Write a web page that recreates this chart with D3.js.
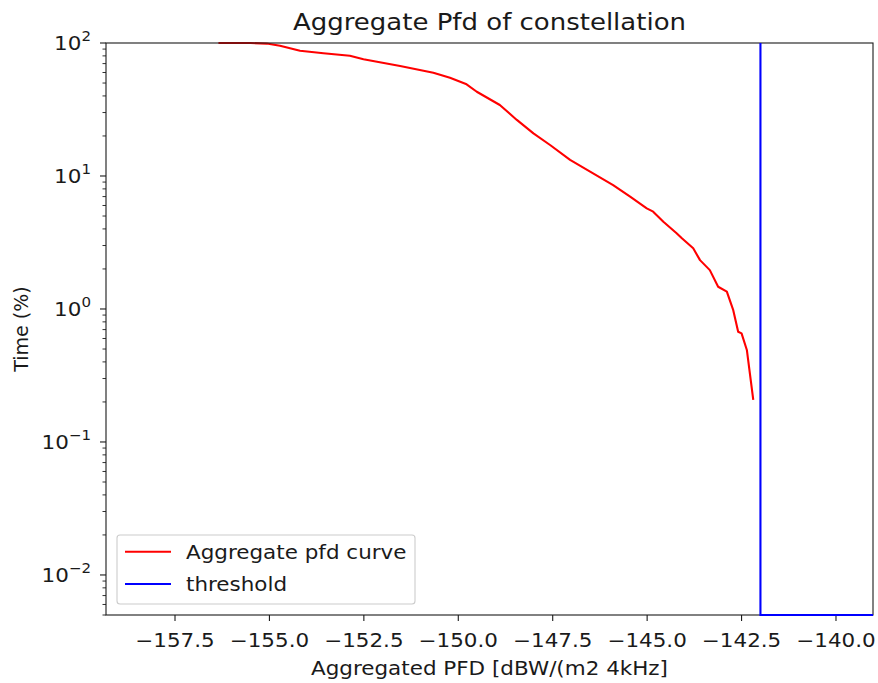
<!DOCTYPE html>
<html>
<head>
<meta charset="utf-8">
<script src="https://cdn.jsdelivr.net/npm/d3@7"></script>
<style>
  html, body { margin: 0; padding: 0; background: #fff; }
  svg { display: block; font-family: "DejaVu Sans", sans-serif; }
</style>
</head>
<body>
<svg id="chart" width="878" height="683"></svg>
<script>
// ---- data ----
const pfdX = [-156.35, -155.5, -155.07, -154.72, -154.19, -153.57, -152.87, -152.51, -151.54, -150.66,
              -150.22, -149.78, -149.51, -148.90, -148.45, -148.01, -147.57, -147.04, -146.51, -145.90,
              -145.45, -145.01, -144.84, -144.57, -144.22, -144.08, -143.78, -143.60, -143.34, -143.12,
              -142.89, -142.72, -142.59, -142.50, -142.36, -142.19];
const timePct = [100, 100, 99, 95.4, 87.5, 83.7, 80.3, 75.4, 67.1, 59.8,
                 54.8, 48.9, 43.0, 34.2, 26.4, 20.9, 17.1, 13.2, 10.8, 8.55,
                 6.99, 5.71, 5.39, 4.53, 3.71, 3.40, 2.86, 2.33, 1.96, 1.47,
                 1.35, 0.98, 0.675, 0.656, 0.492, 0.207];
const thresholdX = [-142, -142, -139.02];
const thresholdY = [100, 0.005, 0.005];
const xTicks = [-157.5, -155.0, -152.5, -150.0, -147.5, -145.0, -142.5, -140.0];
const yTickExps = [2, 1, 0, -1, -2];
const titleText = "Aggregate Pfd of constellation";
const xLabel = "Aggregated PFD [dBW/(m2 4kHz]";
const yLabel = "Time (%)";
const legendLabels = ["Aggregate pfd curve", "threshold"];
const legendColors = ["#ff0000", "#0000ff"];

// ---- layout ----
const L = 106, R = 873, T = 43, B = 615;
const svg = d3.select("#chart");
const x = d3.scaleLinear().domain([-159.327, -139.02]).range([L, R]);
const y = d3.scaleLog().domain([0.005, 100]).range([B, T]);
const FS = 19;
const SX = 1.13;   // horizontal stretch of the reference image
const ink = "#1a1a1a";

function stext(parent, px, py, size, anchor, txt) {
  return parent.append("text")
    .attr("transform", `translate(${px},${py}) scale(${SX},1)`)
    .attr("text-anchor", anchor).attr("font-size", size).attr("fill", ink).text(txt);
}

svg.append("defs").append("clipPath").attr("id", "clip")
  .append("rect").attr("x", L).attr("y", T - 2).attr("width", R - L).attr("height", B - T + 4);

// title
stext(svg, (L + R) / 2, 29.5, 23, "middle", titleText);

// x ticks
const xt = svg.append("g");
xTicks.forEach(v => {
  const px = x(v);
  xt.append("line").attr("x1", px).attr("x2", px).attr("y1", B).attr("y2", B + 6)
    .attr("stroke", ink).attr("stroke-width", 1.1);
  stext(xt, px, 647, FS, "middle", v.toFixed(1).replace("-", "\u2212"));
});
stext(svg, (L + R) / 2, 675, FS, "middle", xLabel);

// y ticks (major + minor)
const yt = svg.append("g");
yTickExps.forEach(e => {
  const py = y(Math.pow(10, e));
  yt.append("line").attr("x1", L - 6).attr("x2", L).attr("y1", py).attr("y2", py)
    .attr("stroke", ink).attr("stroke-width", 1.1);
  const t = stext(yt, 91, py + 7, FS, "end", null);
  t.append("tspan").text("10");
  t.append("tspan").attr("dy", -9).attr("font-size", 13.3)
    .text(e < 0 ? "\u2212" + Math.abs(e) : String(e));
});
for (let e = -3; e <= 1; e++) {
  for (let m = 2; m <= 9; m++) {
    const v = m * Math.pow(10, e);
    if (v < 0.005 || v > 100) continue;
    const py = y(v);
    yt.append("line").attr("x1", L - 3.5).attr("x2", L).attr("y1", py).attr("y2", py)
      .attr("stroke", ink).attr("stroke-width", 0.9);
  }
}
svg.append("text").attr("transform", `translate(28,${(T + B) / 2}) rotate(-90)`)
  .attr("text-anchor", "middle").attr("font-size", FS).attr("fill", ink).text(yLabel);

// lines
const line = d3.line().x(d => x(d[0])).y(d => y(d[1]));
svg.append("path").datum(pfdX.map((v, i) => [v, timePct[i]]))
  .attr("d", line).attr("fill", "none").attr("stroke", legendColors[0])
  .attr("stroke-width", 2.1).attr("stroke-linejoin", "round").attr("clip-path", "url(#clip)");

// frame
svg.append("rect").attr("x", L).attr("y", T).attr("width", R - L).attr("height", B - T)
  .attr("fill", "none").attr("stroke", ink).attr("stroke-width", 1.1);

svg.append("path").datum(thresholdX.map((v, i) => [v, thresholdY[i]]))
  .attr("d", line).attr("fill", "none").attr("stroke", legendColors[1])
  .attr("stroke-width", 2.1).attr("clip-path", "url(#clip)");

// legend
const lg = svg.append("g");
lg.append("rect").attr("x", 117).attr("y", 535).attr("width", 298).attr("height", 69)
  .attr("rx", 3).attr("fill", "#fff").attr("fill-opacity", 0.8)
  .attr("stroke", "#cccccc").attr("stroke-width", 1.1);
legendLabels.forEach((lab, i) => {
  const cy = 551.7 + i * 32.3;
  lg.append("line").attr("x1", 125).attr("x2", 171).attr("y1", cy).attr("y2", cy)
    .attr("stroke", legendColors[i]).attr("stroke-width", 2.1);
  stext(lg, 186, cy + 7, FS, "start", lab);
});
</script>
</body>
</html>
